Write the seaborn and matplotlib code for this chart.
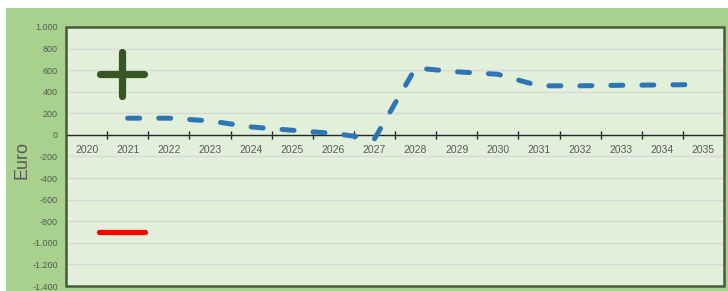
import numpy as np
import pandas as pd
import matplotlib.pyplot as plt
from matplotlib.markers import MarkerStyle
from matplotlib.patches import Rectangle
import seaborn as sns

years = [str(y) for y in range(2020, 2036)]
values = [np.nan, 155, 155, 130, 74, 43, 14, -37, 620, 585, 562, 455, 455, 460, 463, 467]
y_ticks = [-1400, -1200, -1000, -800, -600, -400, -200, 0, 200, 400, 600, 800, 1000]
plus_pos = [0.85, 565]
minus_pos = [0.86, -900]

df = pd.DataFrame({"pos": range(len(years)), "euro": values})

sns.set_style("whitegrid", {"axes.facecolor": "#e2efda", "grid.color": "#d9d9d9"})
plt.rcParams['font.family'] = ['Liberation Sans', 'DejaVu Sans']

fig = plt.figure(figsize=(7.28, 2.91), dpi=100, facecolor="white")
fig.add_artist(Rectangle((6 / 728, 0), 1, 1 - 8 / 291, transform=fig.transFigure,
                         facecolor="#a9d18e", edgecolor="none", zorder=-10))
ax = fig.add_axes([66 / 728, 1 - 286 / 291, 658 / 728, 259 / 291])

sns.lineplot(data=df, x="pos", y="euro", ax=ax, color="#2e75b6", linewidth=3.6,
             linestyle=(0, (2.4, 3.8)), dash_capstyle="round", zorder=3)

ax.plot(plus_pos[0], plus_pos[1], linestyle="none",
        marker=MarkerStyle("+", capstyle="round"), markersize=31, markeredgewidth=5.2,
        color="#375623", zorder=4)
ax.plot(minus_pos[0], minus_pos[1], linestyle="none",
        marker=MarkerStyle("_", capstyle="round"), markersize=33, markeredgewidth=3.8,
        color="#ff0000", zorder=4)

ax.set_xlim(-0.5, len(years) - 0.5)
ax.set_ylim(-1400, 1000)
ax.set_yticks(y_ticks)
ax.set_yticklabels([f"{v:,}".replace(",", ".") for v in y_ticks])
ax.set_xticks(range(len(years)))
ax.set_xticklabels(years)
ax.set_xticks(np.arange(0.5, len(years) - 1, 1), minor=True)
ax.grid(axis="x", visible=False)
ax.grid(axis="y", linewidth=1)

ax.spines["bottom"].set_position(("data", 0))
ax.spines["bottom"].set_color("#262626")
ax.spines["bottom"].set_linewidth(1)
for s in ["top", "left", "right"]:
    ax.spines[s].set_visible(False)
ax.add_patch(Rectangle((0, 0), 1, 1, transform=ax.transAxes, fill=False,
                       edgecolor="#4a5a3c", linewidth=1.8, zorder=5, clip_on=False))

ax.tick_params(axis="x", which="major", length=0, pad=7, labelsize=7.5, labelcolor="#595959")
ax.tick_params(axis="x", which="minor", length=6, width=1, direction="inout",
               color="#262626", bottom=True)
ax.tick_params(axis="y", length=0, pad=6, labelsize=6.5, labelcolor="#595959")
ax.set_xlabel("")
ax.set_ylabel("")

fig.text(22 / 728, 1 - 160 / 291, "Euro", rotation=90, fontsize=13, color="#595959",
         ha="center", va="center")

fig.savefig("out.png", dpi=100, facecolor=fig.get_facecolor())
